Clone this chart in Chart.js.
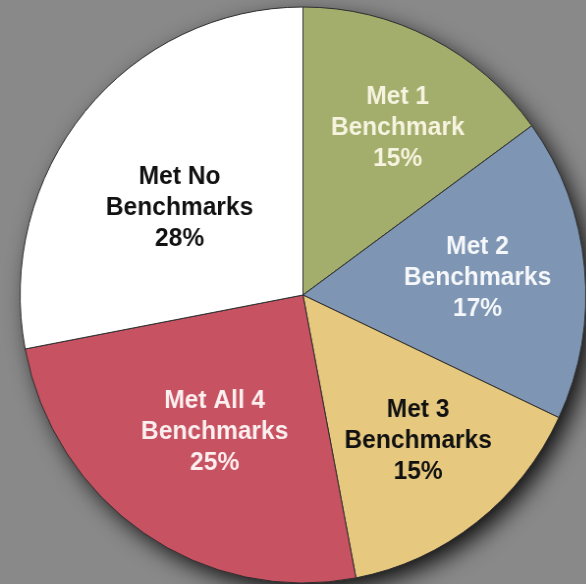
<!DOCTYPE html>
<html>
<head>
<meta charset="utf-8">
<script src="https://cdn.jsdelivr.net/npm/chart.js@4/dist/chart.umd.min.js"></script>
<style>
  html, body { margin: 0; padding: 0; background: #898989; overflow: hidden; }
  #wrap { position: absolute; left: 0; top: 0; width: 617px; height: 590px;
          transform-origin: 0 0; transform: scaleX(0.982); }
</style>
</head>
<body>
<div id="wrap"><canvas id="pie" width="617" height="590"></canvas></div>
<script>
const categories = [['Met 1', 'Benchmark'], ['Met 2', 'Benchmarks'], ['Met 3', 'Benchmarks'], ['Met All 4', 'Benchmarks'], ['Met No', 'Benchmarks']];
const values = [15, 17, 15, 25, 28];
const sliceColors = ['#a4ae6c', '#7e96b3', '#e6c97f', '#c75262', '#ffffff'];
const textColors = ['#f6f3df', '#f5f7fa', '#111111', '#fcefef', '#111111'];

// where each label sits: fraction of radius, nudge in degrees
const labelFrac = [0.67, 0.62, 0.65, 0.57, 0.53];
const labelNudge = [3, 0, -1, -1, -5];

const shadow = {
    id: 'shadow',
    beforeDatasetsDraw(chart) {
        const arc = chart.getDatasetMeta(0).data[0];
        const ctx = chart.ctx;
        ctx.save();
        ctx.shadowColor = 'rgba(0,0,0,0.95)';
        ctx.shadowBlur = 24;
        ctx.shadowOffsetX = 8;
        ctx.shadowOffsetY = 9;
        ctx.fillStyle = '#333';
        ctx.beginPath();
        ctx.arc(arc.x, arc.y, arc.outerRadius - 2, 0, Math.PI * 2);
        ctx.fill();
        ctx.restore();
    }
};

const sliceLabels = {
    id: 'sliceLabels',
    afterDatasetsDraw(chart) {
        const ctx = chart.ctx;
        ctx.save();
        ctx.font = 'bold 25px "Liberation Sans", Arial, sans-serif';
        ctx.textAlign = 'center';
        ctx.textBaseline = 'middle';
        chart.getDatasetMeta(0).data.forEach((arc, i) => {
            const mid = (arc.startAngle + arc.endAngle) / 2 + labelNudge[i] * Math.PI / 180;
            const r = arc.outerRadius * labelFrac[i];
            const x = arc.x + Math.cos(mid) * r;
            const y = arc.y + Math.sin(mid) * r;
            const lines = categories[i].concat([values[i] + '%']);
            ctx.fillStyle = textColors[i];
            lines.forEach((t, k) => {
                ctx.fillText(t, x, y + (k - 1) * 31);
            });
        });
        ctx.restore();
    }
};

new Chart(document.getElementById('pie'), {
    type: 'pie',
    data: {
        labels: categories.map(c => c.join(' ')),
        datasets: [{
            data: values,
            backgroundColor: sliceColors,
            borderColor: '#2e2e2e',
            borderWidth: 1,
            radius: 288
        }]
    },
    options: {
        responsive: false,
        animation: false,
        layout: { padding: 0 },
        plugins: {
            legend: { display: false },
            tooltip: { enabled: false }
        }
    },
    plugins: [shadow, sliceLabels]
});
</script>
</body>
</html>
